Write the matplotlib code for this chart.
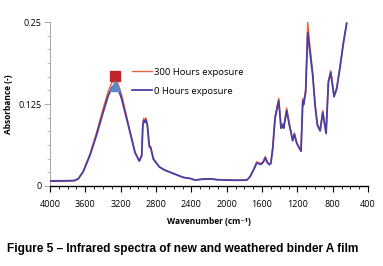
import matplotlib
matplotlib.use('Agg')
import matplotlib.pyplot as plt
from matplotlib.ticker import MultipleLocator

# wavenumber grid (cm-1), high to low
wavenumber = [4000, 3900, 3800, 3720, 3680, 3623, 3547, 3472, 3397, 3340, 3300, 3264, 3230,
              3189, 3113, 3038, 2989, 2962, 2950, 2940, 2930, 2915, 2898, 2876, 2860, 2830,
              2763, 2700, 2604, 2491, 2415, 2358, 2264, 2170, 2113, 2000, 1887, 1773, 1736,
              1690, 1660, 1637, 1611, 1585, 1563, 1540, 1517, 1500, 1479, 1453, 1411, 1385,
              1366, 1355, 1321, 1291, 1253, 1234, 1207, 1159, 1139, 1130, 1106, 1083, 1057,
              1026, 1000, 974, 943, 913, 875, 849, 822, 785, 755, 717, 680, 642]

absorb_0h = [0.0078, 0.0078, 0.0080, 0.0085, 0.0110, 0.0220, 0.0470, 0.0780, 0.1130, 0.1380, 0.1500, 0.1545, 0.1490,
             0.1330, 0.0920, 0.0510, 0.0380, 0.0460, 0.0900, 0.1000, 0.0970, 0.1010, 0.0920, 0.0600, 0.0580, 0.0410,
             0.0290, 0.0240, 0.0190, 0.0130, 0.0115, 0.0090, 0.0105, 0.0108, 0.0096, 0.0090, 0.0087, 0.0090, 0.0140,
             0.0260, 0.0350, 0.0340, 0.0330, 0.0365, 0.0430, 0.0355, 0.0325, 0.0345, 0.0570, 0.1030, 0.1300, 0.0880,
             0.0930, 0.0880, 0.1150, 0.0930, 0.0690, 0.0790, 0.0650, 0.0530, 0.1300, 0.1240, 0.1430, 0.2340, 0.2040,
             0.1680, 0.1230, 0.0930, 0.0840, 0.1120, 0.0800, 0.1580, 0.1730, 0.1360, 0.1480, 0.1810, 0.2170, 0.2480]

absorb_300h = [0.0070, 0.0070, 0.0072, 0.0080, 0.0108, 0.0225, 0.0490, 0.0820, 0.1190, 0.1450, 0.1575, 0.1610, 0.1560,
               0.1390, 0.0950, 0.0520, 0.0385, 0.0470, 0.0920, 0.1030, 0.1000, 0.1040, 0.0950, 0.0620, 0.0600, 0.0420,
               0.0295, 0.0245, 0.0192, 0.0132, 0.0117, 0.0092, 0.0106, 0.0110, 0.0098, 0.0092, 0.0089, 0.0092, 0.0145,
               0.0275, 0.0370, 0.0355, 0.0345, 0.0380, 0.0450, 0.0370, 0.0335, 0.0355, 0.0590, 0.1060, 0.1340, 0.0900,
               0.0950, 0.0900, 0.1190, 0.0950, 0.0700, 0.0810, 0.0660, 0.0540, 0.1330, 0.1270, 0.1480, 0.2500, 0.2120,
               0.1720, 0.1260, 0.0950, 0.0850, 0.1150, 0.0820, 0.1610, 0.1760, 0.1390, 0.1500, 0.1830, 0.2190, 0.2500]

# peak markers near the O-H band
marker_wn = [3264, 3264]
marker_abs = [0.168, 0.152]

series_labels = ['300 Hours exposure', '0 Hours exposure']
x_ticks = [4000, 3600, 3200, 2800, 2400, 2000, 1600, 1200, 800, 400]
y_ticks = [0, 0.125, 0.25]
y_tick_labels = ['0', '0.125', '0.25']

plt.rcParams['font.family'] = ['Open Sans', 'DejaVu Sans']

fig = plt.figure(figsize=(3.83, 2.66), dpi=100)
ax = fig.add_axes([0.1305, 0.3008, 0.8305, 0.6162])

orange = '#E8643A'
blue = '#4A3EA6'

ax.plot(wavenumber, absorb_300h, color=orange, lw=1.0, label=series_labels[0], zorder=2)
ax.plot(wavenumber, absorb_0h, color=blue, lw=1.3, label=series_labels[1], zorder=3)
ax.plot(marker_wn[0], marker_abs[0], marker='s', ms=7, color='#C0262B', ls='none', zorder=4)
ax.plot(marker_wn[1], marker_abs[1], marker='^', ms=7, color='#5B87C5', ls='none', zorder=4)

ax.set_xlim(4000, 400)
ax.set_ylim(0, 0.25)
ax.set_xticks(x_ticks)
ax.set_xticklabels([str(t) for t in x_ticks], fontsize=6.5)
ax.xaxis.set_minor_locator(MultipleLocator(100))
ax.set_yticks(y_ticks)
ax.set_yticklabels(y_tick_labels, fontsize=6.5)
ax.yaxis.set_minor_locator(MultipleLocator(0.125 / 6))

ax.tick_params(axis='x', which='major', direction='out', length=4, width=0.8, color='black', pad=6)
ax.tick_params(axis='x', which='minor', direction='out', length=2.5, width=0.6, color='black')
ax.tick_params(axis='y', which='major', direction='out', length=4, width=0.6, color='#999999', pad=2)
ax.tick_params(axis='y', which='minor', direction='out', length=2.5, width=0.5, color='#999999')

for side in ['top', 'right']:
    ax.spines[side].set_visible(False)
ax.spines['left'].set_color('#999999')
ax.spines['left'].set_linewidth(0.6)
ax.spines['bottom'].set_color('black')
ax.spines['bottom'].set_linewidth(1.0)

ax.set_xlabel('Wavenumber (cm\u207b\u00b9)', fontsize=6, fontweight='bold', labelpad=6)
ax.set_ylabel('Absorbance (-)', fontsize=6, fontweight='bold', labelpad=4)

ax.legend(loc='upper left', bbox_to_anchor=(0.245, 0.745), frameon=False, fontsize=6.8,
          handlelength=2.1, handletextpad=0.25, labelspacing=1.05, borderaxespad=0)

fig.text(0.018, 0.063, 'Figure 5 \u2013 Infrared spectra of new and weathered binder A film',
         fontsize=8.6, fontweight='bold', family=['Liberation Sans Narrow', 'Liberation Sans', 'DejaVu Sans'],
         va='center', ha='left')

fig.savefig('out.png', dpi=100)
